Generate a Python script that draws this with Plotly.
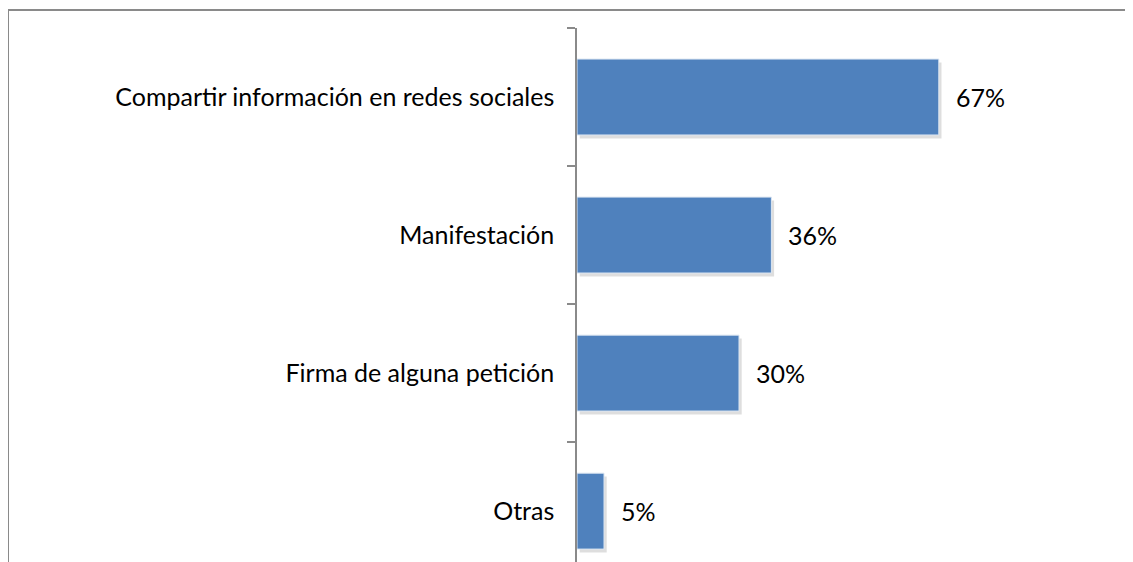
import plotly.graph_objects as go

# Datos
categorias = ["Compartir información en redes sociales", "Manifestación",
              "Firma de alguna petición", "Otras"]
valores = [0.67, 0.36, 0.30, 0.05]
etiquetas = ["67%", "36%", "30%", "5%"]

W, H = 1133, 562
ML, MR, MT, MB = 569, 24, 20, 0
pw, ph = W - ML - MR, H - MT - MB

fig = go.Figure()

# sombra suave bajo cada barra
fig.add_trace(go.Bar(
    x=valores, y=categorias, orientation="h", base=0.005,
    marker=dict(color="rgba(0,0,0,0.13)", line=dict(width=0)),
    width=0.55, offset=-0.25, hoverinfo="skip"
))
fig.add_trace(go.Bar(
    x=valores, y=categorias, orientation="h",
    marker=dict(color="#4F81BD", line=dict(color="#DCE6F2", width=1)),
    width=0.55, offset=-0.275, hoverinfo="skip"
))

# etiquetas de datos a la derecha de cada barra
for v, c, t in zip(valores, categorias, etiquetas):
    fig.add_annotation(x=v, y=c, text=t, showarrow=False, xanchor="left",
                       xshift=15, font=dict(family="Lato", size=25, color="#000000"))

# borde del gráfico
fig.add_shape(type="rect", xref="paper", yref="paper",
              x0=(0 - ML) / pw, x1=(W + 20 - ML) / pw,
              y0=-0.2, y1=(H - 2) / ph,
              line=dict(color="#8A8A8A", width=2))

fig.update_layout(
    width=W, height=H,
    margin=dict(l=ML, r=MR, t=MT, b=MB),
    paper_bgcolor="white", plot_bgcolor="white",
    showlegend=False, barmode="overlay",
    font=dict(family="Lato", size=25, color="#000000"),
    xaxis=dict(range=[0, 1], visible=False, fixedrange=True),
    yaxis=dict(type="category", categoryorder="array", categoryarray=categorias,
               range=[3.5 - 10 / 136, -0.5], showline=True, linecolor="#8A8A8A",
               linewidth=1.5, ticks="outside", tickson="boundaries", ticklen=8,
               tickcolor="#8A8A8A", tickwidth=1.5, showgrid=False,
               ticklabelstandoff=16, zeroline=False),
)

fig.write_html("out.html")
